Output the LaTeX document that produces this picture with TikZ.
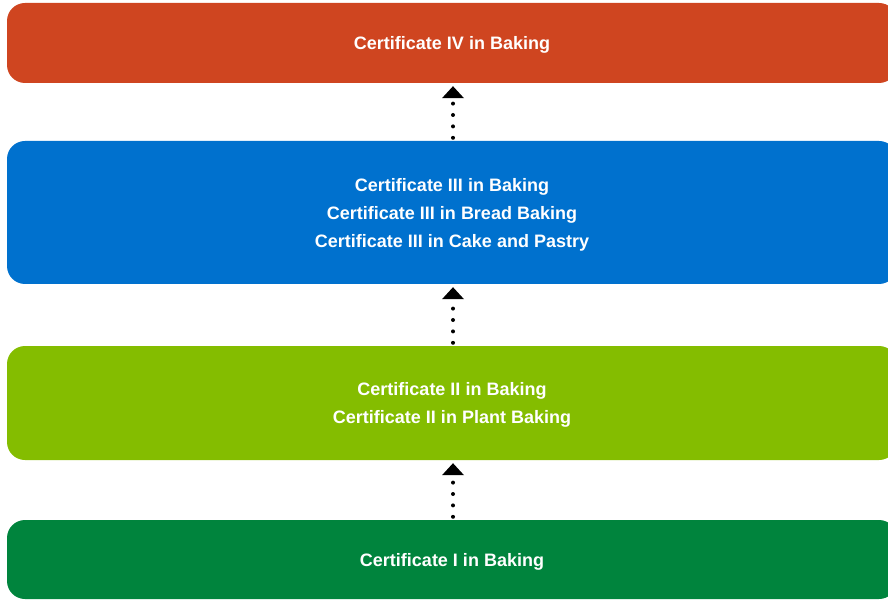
\documentclass[tikz,border=0pt]{standalone}
\usepackage{fontspec}
\setmainfont{Liberation Sans}
\usetikzlibrary{arrows.meta}
\definecolor{cOrange}{HTML}{CF4520}
\definecolor{cBlue}{HTML}{0071CE}
\definecolor{cLime}{HTML}{84BD00}
\definecolor{cDark}{HTML}{00843D}
\tikzset{
  levelbox/.style={rectangle, rounded corners=18pt, minimum width=890pt, inner sep=0pt},
  leveltext/.style={text=white, align=center, inner sep=0pt, font=\fontsize{18}{28}\selectfont\bfseries},
  upconn/.style={line width=4pt, line cap=round, dash pattern=on 0pt off 11.4pt,
    -{Triangle[width=22pt,length=12pt,line width=0pt,round=false]}, shorten >=3pt, shorten <=3pt}
}
\begin{document}
\begin{tikzpicture}[x=1pt,y=-1pt]
\useasboundingbox (0,0) rectangle (888,601);
\clip (0,0) rectangle (888,601);
\node[levelbox, fill=cOrange, minimum height=80pt] (c4) at (452,43) {};
\node[levelbox, fill=cBlue, minimum height=143pt] (c3) at (452,212.5) {};
\node[levelbox, fill=cLime, minimum height=114pt] (c2) at (452,403) {};
\node[levelbox, fill=cDark, minimum height=79pt] (c1) at (452,559.5) {};
\node[leveltext] (t4) at ([yshift=-2pt]c4.center) {Certificate IV in Baking};
\node[leveltext] (t3) at ([yshift=-2pt]c3.center) {Certificate III in Baking\\Certificate III in Bread Baking\\Certificate III in Cake and Pastry};
\node[leveltext] (t2) at ([yshift=-2pt]c2.center) {Certificate II in Baking\\Certificate II in Plant Baking};
\node[leveltext] (t1) at ([yshift=-2.5pt]c1.center) {Certificate I in Baking};
\draw[upconn] ([xshift=1pt]c3.north) -- ([xshift=1pt]c4.south);
\draw[upconn] ([xshift=1pt]c2.north) -- ([xshift=1pt]c3.south);
\draw[upconn] ([xshift=1pt]c1.north) -- ([xshift=1pt]c2.south);
\end{tikzpicture}
\end{document}
